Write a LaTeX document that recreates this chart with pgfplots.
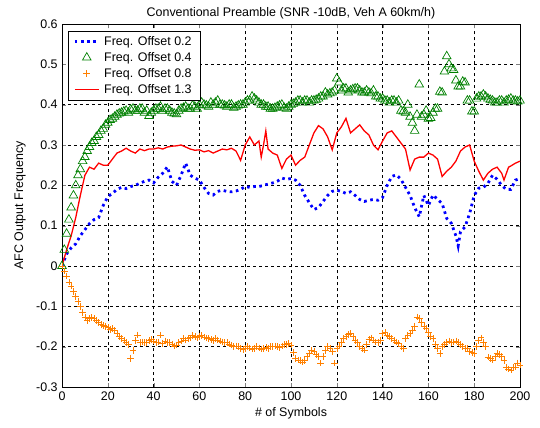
\documentclass[border=0pt]{standalone}
\usepackage{pgfplots}
\pgfplotsset{compat=1.18}
\usepackage{pgfplotstable}
\usepackage{fontspec}
\setmainfont{Liberation Sans}
\definecolor{mgreen}{rgb}{0,0.5,0}
\definecolor{morange}{rgb}{1,0.5,0}
\pgfplotsset{
  linelegend/.style={legend image code/.code={\draw[##1] (0bp,0bp) -- (24bp,0bp);}},
  redlegend/.style={legend image code/.code={\draw[red, line width=1.5pt] (0bp,0bp) -- (24bp,0bp);}},
  marklegend/.style={legend image code/.code={\draw[##1] plot coordinates {(12bp,0bp)};}},
}

\pgfplotstableread{
x y
0 0.00
2 0.03
4 0.045
6 0.055
8 0.075
10 0.09
12 0.105
14 0.115
16 0.12
18 0.15
20 0.172
22 0.18
24 0.19
26 0.195
28 0.192
30 0.197
32 0.20
34 0.205
36 0.21
38 0.213
40 0.206
42 0.22
44 0.23
46 0.246
48 0.21
50 0.20
52 0.225
54 0.255
56 0.225
58 0.218
60 0.213
62 0.195
64 0.18
66 0.176
68 0.185
70 0.188
72 0.185
74 0.184
76 0.186
78 0.19
80 0.197
82 0.195
84 0.197
86 0.197
88 0.20
90 0.203
92 0.206
94 0.21
96 0.218
98 0.215
100 0.217
102 0.213
104 0.20
106 0.175
108 0.157
110 0.14
112 0.145
114 0.16
116 0.175
118 0.185
120 0.188
122 0.185
124 0.18
126 0.184
128 0.175
130 0.165
132 0.16
134 0.163
136 0.165
138 0.163
140 0.17
142 0.20
144 0.222
146 0.226
148 0.215
150 0.195
152 0.175
154 0.145
156 0.122
158 0.175
160 0.15
162 0.176
164 0.165
166 0.155
168 0.118
170 0.106
172 0.075
173 0.05
174 0.085
176 0.097
178 0.13
180 0.175
182 0.193
184 0.195
186 0.205
188 0.225
190 0.215
192 0.20
194 0.19
196 0.19
198 0.213
200 0.217
}\tblue

\pgfplotstableread{
x y
0 0.00
2 0.08
4 0.145
6 0.20
8 0.24
10 0.27
12 0.295
14 0.31
16 0.325
18 0.34
20 0.355
22 0.365
24 0.375
26 0.38
28 0.385
30 0.388
32 0.385
34 0.39
36 0.38
38 0.372
40 0.385
42 0.39
44 0.385
46 0.39
48 0.38
50 0.376
52 0.39
54 0.395
56 0.39
58 0.395
60 0.40
62 0.40
64 0.395
66 0.40
68 0.41
70 0.40
72 0.395
74 0.40
76 0.395
78 0.40
80 0.405
82 0.41
84 0.415
86 0.405
88 0.40
90 0.395
92 0.39
94 0.395
96 0.40
98 0.39
100 0.40
102 0.405
104 0.41
106 0.41
108 0.405
110 0.41
112 0.415
114 0.42
116 0.425
118 0.43
120 0.465
121 0.455
122 0.435
124 0.44
126 0.435
128 0.44
130 0.435
132 0.43
134 0.43
136 0.435
138 0.42
140 0.415
142 0.41
144 0.41
146 0.405
147 0.41
148 0.385
149 0.383
150 0.38
151 0.40
152 0.37
153 0.355
154 0.335
155 0.375
156 0.45
157 0.37
158 0.375
159 0.385
160 0.365
161 0.367
162 0.38
163 0.39
164 0.39
165 0.432
166 0.43
167 0.482
168 0.52
169 0.50
170 0.49
171 0.486
172 0.46
173 0.445
174 0.445
175 0.457
176 0.455
177 0.41
178 0.41
179 0.383
180 0.383
181 0.415
182 0.42
184 0.425
186 0.415
188 0.41
190 0.405
192 0.41
194 0.41
196 0.415
198 0.41
200 0.41
1 0.04
3 0.115
5 0.175
7 0.225
9 0.26
11 0.285
13 0.305
15 0.32
17 0.335
19 0.35
21 0.362
23 0.37
25 0.378
27 0.383
29 0.38
31 0.39
33 0.385
35 0.39
37 0.385
39 0.38
41 0.39
43 0.395
45 0.39
47 0.385
49 0.378
51 0.385
53 0.392
55 0.39
57 0.398
59 0.39
61 0.405
63 0.398
65 0.405
67 0.405
69 0.40
71 0.398
73 0.40
75 0.392
77 0.398
79 0.40
81 0.41
83 0.42
85 0.41
87 0.40
89 0.395
91 0.39
93 0.392
95 0.398
97 0.392
99 0.395
101 0.402
103 0.41
105 0.405
107 0.41
109 0.41
111 0.412
113 0.42
115 0.43
117 0.428
119 0.435
123 0.44
125 0.43
127 0.438
129 0.44
131 0.43
133 0.435
135 0.428
137 0.42
139 0.415
141 0.41
143 0.405
145 0.41
183 0.42
185 0.42
187 0.412
189 0.405
191 0.41
193 0.405
195 0.412
197 0.41
199 0.408
}\tgreen

\pgfplotstableread{
x y
0 0.00
2 -0.025
4 -0.05
6 -0.075
8 -0.10
10 -0.128
12 -0.13
14 -0.13
16 -0.14
18 -0.148
20 -0.152
22 -0.155
24 -0.168
26 -0.18
28 -0.19
30 -0.229
32 -0.185
33 -0.171
34 -0.19
36 -0.19
38 -0.185
40 -0.186
42 -0.188
43 -0.171
44 -0.192
46 -0.19
48 -0.193
50 -0.196
52 -0.186
54 -0.183
56 -0.178
58 -0.175
60 -0.175
62 -0.176
64 -0.18
66 -0.184
68 -0.183
70 -0.188
72 -0.19
74 -0.196
76 -0.198
78 -0.204
80 -0.204
82 -0.203
84 -0.204
86 -0.203
88 -0.205
90 -0.204
92 -0.20
94 -0.20
96 -0.198
98 -0.195
100 -0.196
102 -0.229
104 -0.235
106 -0.235
108 -0.217
110 -0.212
112 -0.225
113 -0.241
114 -0.225
116 -0.20
118 -0.212
119 -0.241
120 -0.205
122 -0.19
124 -0.175
126 -0.167
128 -0.185
130 -0.20
132 -0.208
134 -0.182
136 -0.183
138 -0.19
140 -0.168
142 -0.172
144 -0.18
146 -0.188
148 -0.20
149 -0.204
150 -0.18
152 -0.168
154 -0.15
155 -0.126
156 -0.13
158 -0.15
160 -0.165
162 -0.18
164 -0.205
165 -0.217
166 -0.20
168 -0.19
170 -0.19
172 -0.186
174 -0.195
176 -0.205
178 -0.212
180 -0.217
182 -0.185
184 -0.19
186 -0.226
188 -0.233
190 -0.217
192 -0.225
194 -0.252
196 -0.258
198 -0.25
200 -0.245
1 -0.012
3 -0.04
5 -0.063
7 -0.088
9 -0.115
11 -0.135
13 -0.128
15 -0.135
17 -0.145
19 -0.15
21 -0.158
23 -0.16
25 -0.175
27 -0.185
29 -0.195
31 -0.21
35 -0.188
37 -0.19
39 -0.182
41 -0.19
45 -0.186
47 -0.19
49 -0.198
51 -0.19
53 -0.18
55 -0.18
57 -0.172
59 -0.178
61 -0.172
63 -0.178
65 -0.182
67 -0.18
69 -0.186
71 -0.19
73 -0.193
75 -0.20
77 -0.20
79 -0.207
81 -0.20
83 -0.206
85 -0.20
87 -0.206
89 -0.202
91 -0.20
93 -0.198
95 -0.202
97 -0.195
99 -0.192
101 -0.215
103 -0.233
105 -0.238
107 -0.225
109 -0.21
111 -0.22
115 -0.21
117 -0.205
121 -0.198
123 -0.18
125 -0.17
127 -0.175
129 -0.19
131 -0.205
133 -0.195
135 -0.178
137 -0.188
139 -0.185
141 -0.165
143 -0.175
145 -0.185
147 -0.192
151 -0.172
153 -0.16
157 -0.14
159 -0.155
161 -0.175
163 -0.195
167 -0.195
169 -0.186
171 -0.188
173 -0.19
175 -0.20
177 -0.205
179 -0.215
181 -0.20
183 -0.178
185 -0.20
187 -0.23
189 -0.225
191 -0.22
193 -0.235
195 -0.255
197 -0.25
199 -0.24
}\torange

\pgfplotstableread{
x y
0 0.00
2 0.04
4 0.075
6 0.12
8 0.175
10 0.225
12 0.245
14 0.24
16 0.255
18 0.25
20 0.25
22 0.265
24 0.28
26 0.285
28 0.292
30 0.285
32 0.28
34 0.29
36 0.286
38 0.29
40 0.29
42 0.293
44 0.29
46 0.295
48 0.297
50 0.298
52 0.30
54 0.295
56 0.29
58 0.287
60 0.288
62 0.283
64 0.286
66 0.28
68 0.285
70 0.29
72 0.288
74 0.292
76 0.285
78 0.262
80 0.30
82 0.32
84 0.30
86 0.31
87 0.27
88 0.30
89 0.335
90 0.29
92 0.28
94 0.275
96 0.242
98 0.265
100 0.275
102 0.25
104 0.262
106 0.27
108 0.30
110 0.33
112 0.348
114 0.34
116 0.32
118 0.288
120 0.33
122 0.345
124 0.366
126 0.33
128 0.34
130 0.35
132 0.335
134 0.325
136 0.30
138 0.288
140 0.31
142 0.33
144 0.335
146 0.32
148 0.305
150 0.29
152 0.238
154 0.265
156 0.27
158 0.27
160 0.28
162 0.275
164 0.265
166 0.222
168 0.235
170 0.245
172 0.26
174 0.285
176 0.295
178 0.30
180 0.26
182 0.235
184 0.213
186 0.23
188 0.24
190 0.245
192 0.23
193 0.213
195 0.245
196 0.248
198 0.255
200 0.26
}\tred

\begin{document}
\begin{tikzpicture}
\fontsize{12.5}{14}\selectfont
\useasboundingbox (-62bp,-41bp) rectangle (478bp,387bp);
\begin{axis}[
  at={(0,0)}, anchor=south west,
  scale only axis, width=458bp, height=363bp,
  xmin=0, xmax=200, ymin=-0.3, ymax=0.6,
  xtick={0,20,...,200},
  ytick={-0.3,-0.2,-0.1,0,0.1,0.2,0.3,0.4,0.5,0.6},
  yticklabels={-0.3,-0.2,-0.1,0,0.1,0.2,0.3,0.4,0.5,0.6},
  tick align=inside, tick pos=both,
  major tick length=4bp,
  grid=major,
  major grid style={black, line width=0.5pt, dash pattern=on 3pt off 3pt},
  axis line style={black, line width=0.6pt},
  /pgf/number format/assume math mode=true,
  tick label style={font=\fontsize{12.5}{14}\selectfont},
  label style={font=\fontsize{12.5}{14}\selectfont},
  title style={font=\fontsize{12.5}{14}\selectfont, yshift=-5bp},
  title={Conventional Preamble (SNR -10dB, Veh A 60km/h)},
  xlabel={\# of Symbols},
  ylabel={AFC Output Frequency},
  xlabel style={yshift=1bp},
  ylabel style={yshift=2bp},
  legend style={at={(0.0135,0.981)}, anchor=north west, fill=white,
    font=\fontsize{12.5}{14}\selectfont, row sep=1.2pt,
    inner xsep=5bp, inner ysep=3bp,
    nodes={inner xsep=4bp}},
  legend cell align=left,
]
\addplot[blue, line width=2.8pt, dash pattern=on 2.6pt off 3.6pt, linelegend] table {\tblue};
\addlegendentry{Freq. Offset 0.2}
\addplot[only marks, mgreen, mark=triangle, mark size=5pt, mark options={line width=0.7pt}, marklegend] table {\tgreen};
\addlegendentry{Freq. Offset 0.4}
\addplot[only marks, morange, mark=+, mark size=3.3pt, mark options={line width=0.6pt}, marklegend] table {\torange};
\addlegendentry{Freq. Offset 0.8}
\addplot[red, line width=1.3pt, redlegend] table {\tred};
\addlegendentry{Freq. Offset 1.3}
\end{axis}
\end{tikzpicture}
\end{document}
